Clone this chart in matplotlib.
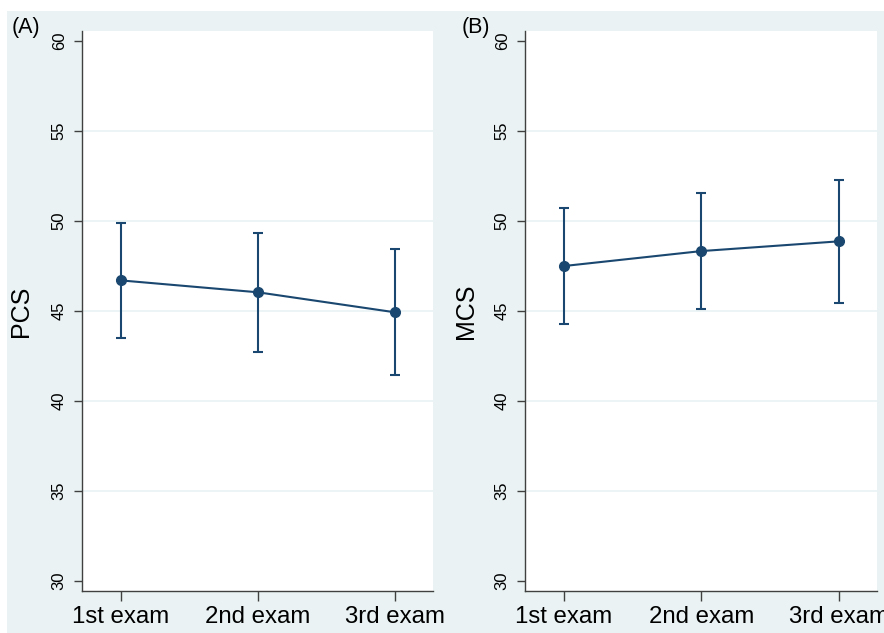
import matplotlib
matplotlib.use("Agg")
import matplotlib.pyplot as plt
from matplotlib.patches import Rectangle

plt.rcParams['font.family'] = ['Liberation Sans', 'DejaVu Sans']

exams = ["1st exam", "2nd exam", "3rd exam"]
pcs_mean = [46.70, 46.04, 44.93]
pcs_low = [43.48, 42.74, 41.44]
pcs_high = [49.91, 49.32, 48.44]
mcs_mean = [47.50, 48.33, 48.87]
mcs_low = [44.28, 45.09, 45.46]
mcs_high = [50.74, 51.57, 52.28]
yticks = [30, 35, 40, 45, 50, 55, 60]

W, H = 884, 633
fig = plt.figure(figsize=(W / 100, H / 100), dpi=100, facecolor="white")
bg = "#EAF2F3"
fig.patches.append(Rectangle((7 / W, 0), 877 / W, (H - 11) / H, transform=fig.transFigure,
                             facecolor=bg, edgecolor="none", zorder=-10))

navy = "#1A476F"
axcol = "#404040"

def panel(left_px, width_px, mean, low, high, ylab, ylab_x, tag, tagx):
    ax = fig.add_axes([left_px / W, (H - 591) / H, width_px / W, 560 / H])
    ax.set_facecolor("white")
    x = list(range(1, len(mean) + 1))
    yerr = [[m - l for m, l in zip(mean, low)], [h - m for m, h in zip(mean, high)]]
    ax.errorbar(x, mean, yerr=yerr, color=navy, lw=1.5, elinewidth=1.5, capsize=3.5,
                capthick=1.5, marker="o", markersize=7, zorder=3)
    ax.set_xlim(0.715, 3.28)
    ax.set_ylim(29.44, 60.56)
    ax.set_yticks(yticks)
    ax.set_xticks(x)
    ax.set_xticklabels(exams, fontsize=17.3)
    ax.set_yticklabels([str(t) for t in yticks], fontsize=12, rotation=90, va="center")
    for t in yticks[1:-1]:
        ax.axhline(t, color=bg, lw=1.2, zorder=1)
    for s in ["top", "right"]:
        ax.spines[s].set_visible(False)
    for s in ["left", "bottom"]:
        ax.spines[s].set_color(axcol)
        ax.spines[s].set_linewidth(1.0)
    ax.tick_params(axis="y", length=6, width=1, color=axcol, pad=5)
    ax.tick_params(axis="x", length=7, width=1, color=axcol, pad=4)
    ax.set_ylabel(ylab, fontsize=18)
    ax.yaxis.set_label_coords((ylab_x - left_px) / width_px, 0.5)
    fig.text(tagx / W, 1 - 28 / H, tag, fontsize=15.5, ha="center", va="center")
    return ax

panel(82, 351, pcs_mean, pcs_low, pcs_high, "PCS", 33, "(A)", 26)
panel(525, 352, mcs_mean, mcs_low, mcs_high, "MCS", 478, "(B)", 476)

fig.savefig("out.png", dpi=100, facecolor="white")
